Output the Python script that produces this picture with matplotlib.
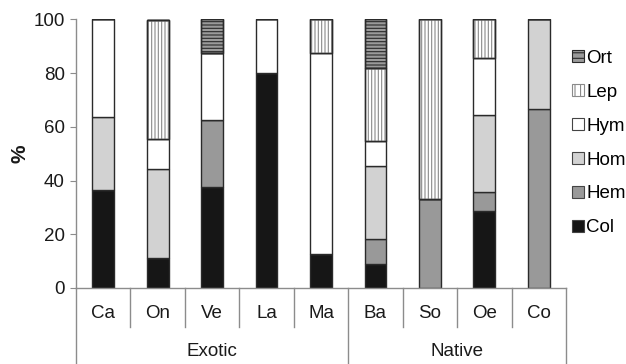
import matplotlib
matplotlib.use("Agg")
import matplotlib.pyplot as plt
from matplotlib.patches import Patch
import numpy as np

plt.rcParams['font.family'] = ['Liberation Sans', 'DejaVu Sans']
plt.rcParams['hatch.linewidth'] = 0.8

categories = ["Ca", "On", "Ve", "La", "Ma", "Ba", "So", "Oe", "Co"]
groups = ["Exotic", "Native"]
group_sizes = [5, 4]
series_names = ["Col", "Hem", "Hom", "Hym", "Lep", "Ort"]

Col = [36.4, 11.1, 37.5, 80.0, 12.5, 9.1, 0.0, 28.6, 0.0]
Hem = [0.0, 0.0, 25.0, 0.0, 0.0, 9.1, 33.3, 7.1, 66.7]
Hom = [27.3, 33.3, 0.0, 0.0, 0.0, 27.3, 0.0, 28.6, 33.3]
Hym = [36.4, 11.1, 25.0, 20.0, 75.0, 9.1, 0.0, 21.4, 0.0]
Lep = [0.0, 44.4, 0.0, 0.0, 12.5, 27.3, 66.7, 14.3, 0.0]
Ort = [0.0, 0.0, 12.5, 0.0, 0.0, 18.2, 0.0, 0.0, 0.0]
yticks = [0, 20, 40, 60, 80, 100]

series = [Col, Hem, Hom, Hym, Lep, Ort]
faces = ["#161616", "#999999", "#d2d2d2", "#ffffff", "#ffffff", "#9a9a9a"]
hatches = [None, None, None, None, "|||||", "-----"]
hatch_cols = [None, None, None, None, "#8a8a8a", "#2a2a2a"]
edge = "#2a2a2a"
axis_col = "#8c8c8c"
fs = 13.5

fig = plt.figure(figsize=(6.26, 3.64), dpi=100)
ax = fig.add_axes([76/626, 1-288/364, (566-76)/626, (288-19.5)/364])

x = np.arange(len(categories))
w = 0.4
bottom = np.zeros(len(categories))
handles = []
for name, vals, fc, h, hc in zip(series_names, series, faces, hatches, hatch_cols):
    vals = np.array(vals)
    ax.bar(x, vals, w, bottom=bottom, color=fc, edgecolor=edge, linewidth=1.0, zorder=2)
    if h:
        ax.bar(x, vals, w, bottom=bottom, fill=False, edgecolor=hc, hatch=h, linewidth=0, zorder=3)
        ax.bar(x, vals, w, bottom=bottom, fill=False, edgecolor=edge, linewidth=1.0, zorder=4)
        handles.append(Patch(facecolor=fc, edgecolor=hc, hatch=h[:3], linewidth=0.8))
    else:
        handles.append(Patch(facecolor=fc, edgecolor="#444444", linewidth=0.8))
    bottom += vals

ax.set_xlim(-0.5, len(categories) - 0.5)
ax.set_ylim(0, 100)
ax.set_yticks(yticks)
ax.tick_params(axis='y', direction='out', length=4, color=axis_col, labelsize=fs, pad=4, labelcolor="#1a1a1a")
ax.set_xticks([])
for s in ["top", "right"]:
    ax.spines[s].set_visible(False)
for s in ["left", "bottom"]:
    ax.spines[s].set_color(axis_col)
    ax.spines[s].set_linewidth(1.0)

ax.set_ylabel("%", fontsize=15, fontweight='bold', color="#1a1a1a", va='center')
ax.yaxis.set_label_coords((20 - 76) / 490, 0.5)

trans = ax.get_xaxis_transform()
ax_h = 288 - 19.5
sep_low = -(327 - 288) / ax_h
bot = -(364 - 288) / ax_h
cat_y = -(313 - 288) / ax_h
grp_y = -(351 - 288) / ax_h
for i, c in enumerate(categories):
    ax.text(i, cat_y, c, transform=trans, ha='center', va='center', fontsize=fs, color="#1a1a1a")
bounds = np.cumsum([0] + group_sizes)
grp_edges = set(bounds.tolist())
for b in range(len(categories) + 1):
    lo = bot if b in grp_edges else sep_low
    ax.plot([b - 0.5, b - 0.5], [0, lo], transform=trans, color=axis_col, lw=1.0, clip_on=False)
for g, s0, s1 in zip(groups, bounds[:-1], bounds[1:]):
    ax.text((s0 + s1 - 1) / 2, grp_y, g, transform=trans, ha='center', va='center', fontsize=fs, color="#1a1a1a")

leg = fig.legend(handles[::-1], series_names[::-1], loc='upper left',
                 bbox_to_anchor=(572/626, 1 - 50/364), frameon=False, fontsize=fs,
                 handlelength=0.62, handleheight=0.62, handletextpad=0.15, labelspacing=0.9,
                 borderaxespad=0, borderpad=0)

fig.savefig("out.png", dpi=100)
